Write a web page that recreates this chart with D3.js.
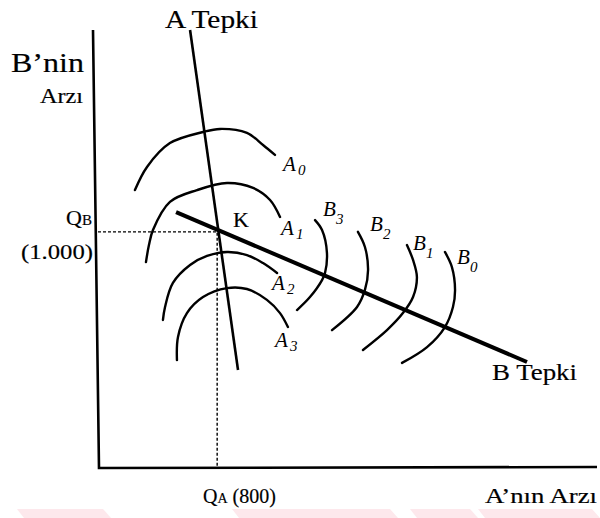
<!DOCTYPE html>
<html>
<head>
<meta charset="utf-8">
<script src="https://cdn.jsdelivr.net/npm/d3@7/dist/d3.min.js"></script>
<style>
  html, body { margin: 0; padding: 0; background: #fff; }
  svg { display: block; }
</style>
</head>
<body>
<svg id="chart" width="600" height="518"></svg>
<script>
// Cournot duopoly: reaction functions of firms A and B with iso-profit curves.
// Equilibrium output levels at K
const QA = 800;
const QB = 1000;
const xMax = 3350;   // A'nın arzı, end of axis
const yMax = 1855;   // B'nin arzı, end of axis

// Reaction functions (end points, quantity A, quantity B)
const reactionA = [[618, 1855], [940, 415]];
const reactionB = [[524, 1084], [2880, 449]];

// Iso-profit curves of firm A (A0 lowest profit ... A3 highest)
const isoA0 = [[248, 1177], [329, 1275], [483, 1376], [705, 1423], [819, 1436], [1000, 1419], [1108, 1368], [1188, 1326]];
const isoA1 = [[322, 872], [342, 944], [369, 1008], [483, 1127], [665, 1177], [866, 1207], [1041, 1186], [1155, 1135], [1222, 1063]];
const isoA2 = [[436, 627], [450, 682], [503, 784], [618, 860], [732, 898], [866, 915], [1000, 902], [1108, 868], [1202, 826]];
const isoA3 = [[530, 457], [537, 555], [597, 656], [705, 724], [866, 762], [1000, 758], [1134, 712], [1222, 656], [1275, 597]];
const isoANames = ["0", "1", "2", "3"];

// Iso-profit curves of firm B (B3 nearest the origin)
const isoB3 = [[1457, 1050], [1504, 1008], [1537, 911], [1524, 826], [1504, 796], [1423, 724], [1336, 669]];
const isoB2 = [[1745, 1000], [1792, 936], [1813, 839], [1792, 754], [1739, 682], [1571, 584]];
const isoB1 = [[2074, 944], [2115, 881], [2141, 809], [2115, 724], [2047, 656], [1940, 584], [1779, 500]];
const isoB0 = [[2329, 915], [2376, 851], [2397, 754], [2383, 682], [2329, 597], [2209, 512], [2041, 445]];
const isoBNames = ["3", "2", "1", "0"];

const SERIF = "Liberation Serif";
const TEXT_OUTLINE = 0.18;

const svg = d3.select("#chart")
  .attr("font-family", SERIF);

// faint pink band along the bottom edge
const band = svg.append("g").attr("fill", "#fde8ec");
[[17, 103], [232, 390], [410, 470], [478, 592]].forEach(([a, b]) => {
  band.append("polygon")
    .attr("points", `${a},509 ${b},509 ${b + 8},518 ${a + 7},518`);
});

const x = d3.scaleLinear().domain([0, xMax]).range([98, 597]);
const y = d3.scaleLinear().domain([0, yMax]).range([468, 30]);

const line = d3.line().x(d => x(d[0])).y(d => y(d[1]));
const curve = d3.line().x(d => x(d[0])).y(d => y(d[1])).curve(d3.curveCatmullRom.alpha(0.5));

// axes (no ticks)
svg.append("path")
  .attr("d", `M${x(0) - 5},${y(yMax)} L${x(0) + 1},${y(0)} L${x(xMax)},${y(0) - 1}`)
  .attr("fill", "none").attr("stroke", "#000").attr("stroke-width", 2.6)
  .attr("stroke-linejoin", "miter");

// guide lines to the equilibrium
svg.append("path")
  .attr("d", line([[0, QB], [QA, QB], [QA, 0]]))
  .attr("fill", "none").attr("stroke", "#000").attr("stroke-width", 1.4)
  .attr("stroke-dasharray", "3,2");

// iso-profit curves
const arcs = svg.append("g").attr("fill", "none").attr("stroke", "#000")
  .attr("stroke-width", 2.4).attr("stroke-linecap", "round");
[isoA0, isoA1, isoA2, isoA3, isoB3, isoB2, isoB1, isoB0].forEach(pts => {
  arcs.append("path").attr("d", curve(pts));
});

// reaction functions
svg.append("path").attr("d", line(reactionA))
  .attr("fill", "none").attr("stroke", "#000").attr("stroke-width", 2.6);
svg.append("path").attr("d", line(reactionB))
  .attr("fill", "none").attr("stroke", "#000").attr("stroke-width", 4);

// hand-written curve labels: letter with a lowered index beside it
function handLabel(letter, sub, px, py, subDx, subDy) {
  svg.append("text").attr("x", px).attr("y", py)
    .attr("font-family", SERIF).attr("font-style", "italic")
    .attr("font-size", 21).text(letter);
  svg.append("text").attr("x", px + subDx).attr("y", py + subDy)
    .attr("font-family", SERIF).attr("font-style", "italic")
    .attr("font-size", 15).text(sub);
}
const isoAEnds = [isoA0, isoA1, isoA2, isoA3].map(p => p[p.length - 1]);
const aOffsets = [[8, 16], [1, 18], [-5, 17], [-13, 20]];
isoAEnds.forEach((e, i) => {
  handLabel("A", isoANames[i], x(e[0]) + aOffsets[i][0], y(e[1]) + aOffsets[i][1], 15, 4);
});
const isoBEnds = [isoB3, isoB2, isoB1, isoB0].map(p => p[0]);
const bOffsets = [[8, -4], [12, -1], [6, 5], [12, 12]];
isoBEnds.forEach((e, i) => {
  handLabel("B", isoBNames[i], x(e[0]) + bOffsets[i][0], y(e[1]) + bOffsets[i][1], 13, 8);
});

// axis titles and annotations (thin outline gives the printed weight)
function label(str, px, py, size, opts = {}) {
  const t = svg.append("text").attr("x", px).attr("y", py)
    .attr("font-family", SERIF).attr("font-size", size)
    .attr("stroke", "#000").attr("stroke-width", TEXT_OUTLINE).text(str);
  if (opts.len) t.attr("textLength", opts.len).attr("lengthAdjust", "spacingAndGlyphs");
  if (opts.anchor) t.attr("text-anchor", opts.anchor);
  return t;
}
label("A Tepki", 165, 28, 26, { len: 93 });
label("B\u2019nin", 11, 72, 27, { len: 73 });
label("Arzı", 40, 103, 21, { len: 43 });
label("K", 233, 227, 22);
label("B Tepki", 492, 380, 24, { len: 85 });
label("(1.000)", 93, 259, 22, { anchor: "end", len: 72 });
label("A\u2019nın Arzı", 485, 503, 20, { len: 112 });

const qb = svg.append("text").attr("x", 92).attr("y", 225)
  .attr("text-anchor", "end").attr("font-family", SERIF).attr("font-size", 22)
  .attr("stroke", "#000").attr("stroke-width", TEXT_OUTLINE);
qb.append("tspan").text("Q");
qb.append("tspan").attr("font-size", 15).text("B");

const qa = svg.append("text").attr("x", 203).attr("y", 503)
  .attr("font-family", SERIF).attr("font-size", 20)
  .attr("stroke", "#000").attr("stroke-width", TEXT_OUTLINE);
qa.append("tspan").text("Q");
qa.append("tspan").attr("font-size", 14).text("A");
qa.append("tspan").text(` (${QA})`);
</script>
</body>
</html>
